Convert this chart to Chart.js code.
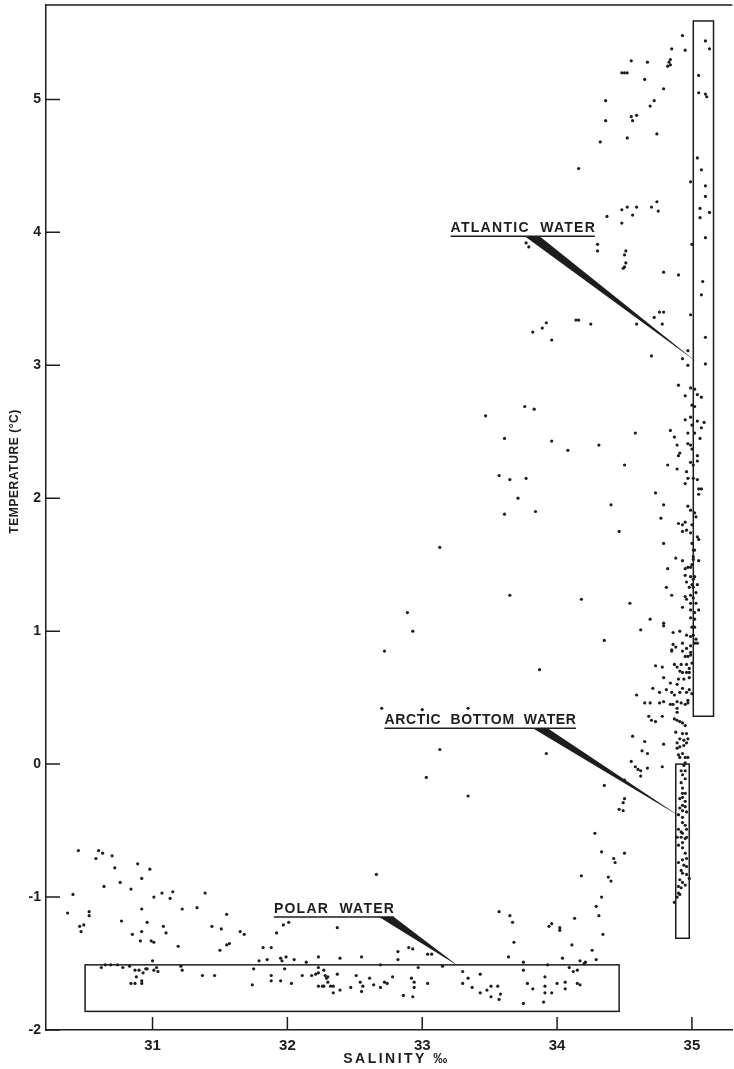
<!DOCTYPE html>
<html>
<head>
<meta charset="utf-8">
<title>Temperature - salinity</title>
<script src="https://cdn.jsdelivr.net/npm/chart.js@4.4.1/dist/chart.umd.min.js"></script>
<style>
  html, body { margin: 0; padding: 0; background: #fff; }
  canvas { display: block; }
</style>
</head>
<body>
<canvas id="tsChart" width="734" height="1069"></canvas>
<script>
// axis ranges and tick values
const salinityTicks = [31, 32, 33, 34, 35];
const temperatureTicks = [-2, -1, 0, 1, 2, 3, 4, 5];
const salinityRange = [30.21, 35.3];
const temperatureRange = [-2, 5.71];

// observations [salinity, temperature], read off the plate
// warm water near the top right
const upperPoints = [
  [34.93, 5.48], [34.95, 5.37], [34.85, 5.38], [35.10, 5.44], [35.13, 5.38], [34.55, 5.29], [34.67, 5.28],
  [34.84, 5.30], [34.83, 5.28], [34.84, 5.26], [34.82, 5.25], [34.48, 5.20], [34.50, 5.20], [34.52, 5.20],
  [35.05, 5.18], [34.65, 5.15], [34.79, 5.08], [35.05, 5.05], [35.10, 5.04], [35.11, 5.02], [34.36, 4.99],
  [34.72, 4.99], [34.69, 4.95], [34.55, 4.87], [34.59, 4.88], [34.56, 4.84], [34.36, 4.84], [34.74, 4.74],
  [34.52, 4.71], [34.32, 4.68], [34.16, 4.48], [35.04, 4.56], [35.07, 4.47], [34.99, 4.38], [35.10, 4.35],
  [35.10, 4.27], [35.06, 4.18], [35.06, 4.11], [35.13, 4.15], [35.10, 3.96], [34.48, 4.17], [34.52, 4.19],
  [34.59, 4.19], [34.56, 4.13], [34.70, 4.19], [34.74, 4.23], [34.75, 4.16], [34.37, 4.12], [34.48, 4.07],
  [34.30, 3.91], [34.30, 3.86], [34.51, 3.86], [34.50, 3.83], [34.51, 3.77], [34.50, 3.74], [34.49, 3.73],
  [35.00, 3.91], [34.79, 3.70], [34.90, 3.68], [35.08, 3.63], [35.07, 3.53], [34.99, 3.38], [34.76, 3.40],
  [34.79, 3.40], [34.72, 3.36], [34.78, 3.31], [34.59, 3.31], [35.10, 3.21], [34.14, 3.34], [34.16, 3.34],
  [34.25, 3.31], [33.92, 3.32], [33.89, 3.28], [33.96, 3.19], [33.77, 3.92], [33.79, 3.89], [33.82, 3.25]
];

// the dense column along 35 permille
const columnPoints = [
  [34.97, 3.11], [34.93, 3.05], [34.97, 3.00], [35.10, 3.01], [34.70, 3.07], [34.90, 2.85], [34.99, 2.83],
  [34.95, 2.77], [35.04, 2.78], [35.07, 2.76], [35.02, 2.82], [35.00, 2.70], [35.02, 2.69], [34.95, 2.59],
  [34.99, 2.61], [35.04, 2.58], [35.09, 2.57], [35.07, 2.53], [35.00, 2.55], [34.84, 2.51], [34.87, 2.46],
  [34.97, 2.49], [35.02, 2.49], [35.06, 2.45], [34.58, 2.49], [33.96, 2.43], [34.08, 2.36], [34.31, 2.40],
  [34.89, 2.40], [34.91, 2.34], [34.90, 2.32], [34.97, 2.41], [34.99, 2.40], [35.00, 2.37], [35.04, 2.28],
  [35.04, 2.32], [34.99, 2.27], [35.01, 2.25], [34.82, 2.25], [34.89, 2.22], [34.96, 2.20], [34.97, 2.15],
  [34.95, 2.11], [35.01, 2.15], [35.04, 2.14], [34.50, 2.25], [35.05, 2.07], [35.07, 2.07], [35.05, 2.03],
  [34.73, 2.04], [34.40, 1.95], [34.79, 1.95], [34.97, 1.94], [34.99, 1.91], [35.02, 1.89], [35.03, 1.86],
  [34.77, 1.85], [34.90, 1.81], [34.93, 1.80], [34.95, 1.82], [34.96, 1.76], [34.93, 1.75], [34.99, 1.74],
  [35.00, 1.80], [34.46, 1.75], [35.04, 1.71], [35.05, 1.69], [34.79, 1.66], [35.00, 1.66], [35.01, 1.61],
  [35.02, 1.61], [34.88, 1.55], [34.93, 1.53], [35.05, 1.53], [35.01, 1.56], [35.01, 1.54], [34.82, 1.47],
  [34.95, 1.47], [34.97, 1.48], [34.99, 1.48], [35.00, 1.50], [34.95, 1.42], [34.99, 1.41], [35.02, 1.41],
  [35.01, 1.39], [34.96, 1.37], [35.00, 1.35], [35.01, 1.33], [35.04, 1.35], [34.98, 1.33], [34.81, 1.33],
  [34.85, 1.27], [34.95, 1.26], [34.96, 1.24], [34.99, 1.27], [35.01, 1.25], [35.03, 1.29], [34.18, 1.24],
  [34.54, 1.21], [34.99, 1.21], [35.03, 1.21], [34.93, 1.18], [34.99, 1.16], [35.05, 1.16], [35.02, 1.14],
  [34.69, 1.09], [34.79, 1.06], [34.79, 1.04], [34.99, 1.10], [35.02, 1.09], [35.00, 1.03], [35.02, 1.03],
  [34.62, 1.01], [34.86, 0.99], [34.91, 1.00], [34.35, 0.93], [34.96, 0.97], [34.99, 0.96], [35.01, 0.97],
  [35.03, 0.94], [35.02, 0.91], [35.04, 0.91], [34.99, 0.89], [34.86, 0.90], [34.88, 0.88], [34.85, 0.85],
  [34.93, 0.91], [34.93, 0.85], [34.96, 0.87], [34.99, 0.84], [34.95, 0.81], [34.97, 0.81], [34.99, 0.82],
  [34.85, 0.86], [34.73, 0.74], [34.78, 0.73], [34.87, 0.75], [34.89, 0.73], [34.92, 0.75], [34.96, 0.75],
  [34.91, 0.70], [34.93, 0.69], [34.96, 0.69], [34.98, 0.72], [35.00, 0.76], [34.98, 0.69], [34.79, 0.65],
  [34.84, 0.61], [34.89, 0.60], [34.90, 0.64], [34.94, 0.64], [34.98, 0.65], [34.59, 0.52], [34.71, 0.57],
  [34.76, 0.54], [34.81, 0.56], [34.85, 0.54], [34.87, 0.52], [34.91, 0.54], [34.93, 0.57], [34.96, 0.54],
  [34.98, 0.56], [35.00, 0.53], [34.65, 0.46], [34.69, 0.46], [34.76, 0.46], [34.79, 0.47], [34.86, 0.45],
  [34.89, 0.47], [34.92, 0.46], [34.95, 0.45], [34.97, 0.46], [34.97, 0.48], [34.89, 0.42], [34.84, 0.45],
  [34.68, 0.36], [34.70, 0.33], [34.73, 0.32], [34.78, 0.36], [34.89, 0.39], [34.87, 0.34], [34.89, 0.33],
  [34.91, 0.32], [34.93, 0.31], [34.95, 0.29], [34.56, 0.21], [34.65, 0.17], [34.79, 0.15], [34.88, 0.24],
  [34.93, 0.23], [34.96, 0.23], [34.91, 0.19], [34.94, 0.18], [34.97, 0.19], [34.89, 0.16], [34.89, 0.12],
  [34.91, 0.13], [34.94, 0.14], [34.96, 0.16], [34.90, 0.07], [34.93, 0.08], [34.95, 0.05], [34.97, 0.05],
  [34.91, 0.05], [34.95, 0.01], [34.94, -0.01], [34.63, 0.10], [34.67, 0.08], [34.55, 0.02], [34.58, -0.02],
  [34.60, -0.04], [34.62, -0.05], [34.62, -0.09], [34.67, -0.03], [34.78, -0.02], [34.50, -0.12], [34.35, -0.16]
];

// arctic bottom water and the cold limb leading down to the polar layer
const arcticPoints = [
  [34.92, -0.05], [34.95, -0.05], [34.93, -0.08], [34.95, -0.11], [34.92, -0.14], [34.93, -0.18], [34.93, -0.22],
  [34.95, -0.22], [34.93, -0.25], [34.91, -0.26], [34.95, -0.28], [34.93, -0.31], [34.95, -0.32], [34.91, -0.33],
  [34.93, -0.35], [34.96, -0.36], [34.90, -0.38], [34.93, -0.40], [34.93, -0.44], [34.95, -0.46], [34.90, -0.49],
  [34.92, -0.51], [34.93, -0.52], [34.96, -0.49], [34.89, -0.55], [34.92, -0.55], [34.95, -0.56], [34.96, -0.55],
  [34.93, -0.59], [34.90, -0.61], [34.93, -0.63], [34.95, -0.67], [34.96, -0.71], [34.90, -0.74], [34.93, -0.72],
  [34.94, -0.76], [34.96, -0.77], [34.92, -0.80], [34.93, -0.82], [34.96, -0.83], [34.98, -0.86], [34.91, -0.87],
  [34.93, -0.89], [34.95, -0.91], [34.90, -0.92], [34.92, -0.93], [34.90, -0.97], [34.91, -0.98], [34.87, -1.04],
  [34.89, -1.00], [34.50, -0.26], [34.49, -0.29], [34.46, -0.34], [34.49, -0.35], [34.28, -0.52], [34.33, -0.66],
  [34.50, -0.67], [34.42, -0.71], [34.43, -0.74], [34.38, -0.85], [34.40, -0.88], [34.33, -1.00], [34.29, -1.07],
  [34.31, -1.14], [34.34, -1.28], [34.26, -1.40], [34.29, -1.47], [34.18, -0.84], [34.11, -1.36], [34.13, -1.16]
];

// scattered stations in the middle of the field
const midPoints = [
  [32.72, 0.85], [33.87, 0.71], [32.70, 0.42], [33.00, 0.41], [33.34, 0.42], [33.13, 0.11], [33.92, 0.08],
  [33.03, -0.10], [33.34, -0.24], [32.66, -0.83], [33.76, 2.69], [33.83, 2.67], [33.47, 2.62], [33.61, 2.45],
  [33.57, 2.17], [33.65, 2.14], [33.77, 2.15], [33.71, 2.00], [33.61, 1.88], [33.84, 1.90], [33.13, 1.63],
  [33.65, 1.27], [32.89, 1.14], [32.93, 1.00]
];

// low salinity surface water on the left and the polar layer
const polarPoints = [
  [30.45, -0.65], [30.41, -0.98], [30.37, -1.12], [30.46, -1.22], [30.49, -1.21], [30.47, -1.26], [30.53, -1.11],
  [30.53, -1.14], [30.58, -0.71], [30.60, -0.65], [30.63, -0.67], [30.70, -0.69], [30.64, -0.92], [30.72, -0.78],
  [30.76, -0.89], [30.77, -1.18], [30.84, -0.94], [30.89, -0.75], [30.92, -0.86], [30.98, -0.79], [30.92, -1.09],
  [30.85, -1.28], [30.92, -1.26], [30.91, -1.33], [30.96, -1.19], [30.99, -1.33], [31.01, -1.34], [31.01, -1.00],
  [31.07, -0.97], [31.13, -1.01], [31.15, -0.96], [31.08, -1.22], [31.10, -1.27], [31.22, -1.09], [31.19, -1.37],
  [31.33, -1.08], [31.39, -0.97], [31.44, -1.22], [31.51, -1.24], [31.55, -1.13], [31.50, -1.40], [31.55, -1.36],
  [31.57, -1.35], [31.65, -1.26], [31.68, -1.28], [31.82, -1.38], [31.88, -1.38], [31.79, -1.48], [31.85, -1.47],
  [31.92, -1.27], [31.97, -1.21], [32.01, -1.19], [31.95, -1.46], [31.99, -1.45], [31.96, -1.48], [32.05, -1.47],
  [30.62, -1.53], [30.65, -1.51], [30.69, -1.51], [30.74, -1.51], [30.78, -1.53], [30.83, -1.52], [30.87, -1.55],
  [30.90, -1.55], [30.95, -1.54], [30.96, -1.54], [31.00, -1.48], [31.01, -1.55], [31.03, -1.53], [31.04, -1.56],
  [30.93, -1.57], [30.88, -1.60], [30.84, -1.65], [30.87, -1.65], [30.92, -1.63], [30.92, -1.65], [31.21, -1.52],
  [31.22, -1.55], [31.37, -1.59], [31.46, -1.59], [31.75, -1.54], [31.74, -1.66], [31.88, -1.59], [31.88, -1.63],
  [31.98, -1.54], [31.95, -1.63], [32.03, -1.65], [32.37, -1.23], [32.23, -1.45], [32.39, -1.46], [32.55, -1.45],
  [32.14, -1.49], [32.11, -1.59], [32.18, -1.59], [32.21, -1.58], [32.23, -1.57], [32.28, -1.59], [32.30, -1.60],
  [32.27, -1.55], [32.23, -1.53], [32.29, -1.61], [32.30, -1.64], [32.23, -1.67], [32.26, -1.67], [32.27, -1.67],
  [32.32, -1.67], [32.34, -1.67], [32.34, -1.72], [32.39, -1.70], [32.47, -1.68], [32.51, -1.59], [32.54, -1.64],
  [32.55, -1.71], [32.56, -1.67], [32.61, -1.61], [32.64, -1.66], [32.37, -1.58], [32.69, -1.68], [32.72, -1.64],
  [32.74, -1.65], [32.78, -1.60], [32.69, -1.51], [32.82, -1.41], [32.82, -1.47], [32.90, -1.38], [32.93, -1.39],
  [33.04, -1.43], [33.07, -1.43], [32.97, -1.53], [32.92, -1.61], [32.94, -1.64], [32.94, -1.68], [33.04, -1.65],
  [32.86, -1.74], [32.93, -1.75], [33.15, -1.52], [33.30, -1.56], [33.34, -1.61], [33.30, -1.65], [33.37, -1.68],
  [33.43, -1.58], [33.43, -1.72], [33.48, -1.70], [33.51, -1.67], [33.51, -1.75], [33.56, -1.67], [33.57, -1.77],
  [33.58, -1.73], [33.57, -1.11], [33.65, -1.14], [33.67, -1.19], [33.68, -1.34], [33.64, -1.45], [33.75, -1.49],
  [33.75, -1.55], [33.78, -1.65], [33.82, -1.69], [33.75, -1.80], [33.94, -1.22], [33.96, -1.20], [34.02, -1.23],
  [34.02, -1.25], [33.93, -1.51], [33.91, -1.60], [33.91, -1.67], [33.91, -1.72], [33.96, -1.72], [33.90, -1.79],
  [34.00, -1.65], [34.06, -1.64], [34.06, -1.69], [34.04, -1.46], [34.09, -1.53], [34.12, -1.56], [34.15, -1.55],
  [34.17, -1.48], [34.20, -1.50], [34.21, -1.49], [34.15, -1.65], [34.17, -1.66]
];

// water mass boxes: [salinity min, salinity max, temp min, temp max]
const atlanticBox = [35.01, 35.16, 0.36, 5.59];
const arcticBox = [34.88, 34.98, -1.31, 0.0];
const polarBox = [30.5, 34.46, -1.86, -1.51];

// labels with underline span, underline temperature, wedge base and wedge tip
const waterLabels = [
  { text: "ATLANTIC  WATER", from: 33.21, to: 34.28, temp: 3.97, base: [33.76, 33.87], tip: [35.04, 3.02] },
  { text: "ARCTIC  BOTTOM  WATER", from: 32.72, to: 34.14, temp: 0.27, base: [33.82, 33.93], tip: [34.92, -0.40] },
  { text: "POLAR  WATER", from: 31.90, to: 32.79, temp: -1.15, base: [32.68, 32.79], tip: [33.27, -1.52] }
];

const ink = "#1d1d1d";
const fontFamily = '"Liberation Sans", Arial, sans-serif';

function fitText(ctx, text, x, y, width) {
  ctx.letterSpacing = "0px";
  const w = ctx.measureText(text).width;
  const sp = Math.max(0, (width - w) / (text.length - 1));
  ctx.letterSpacing = sp + "px";
  ctx.fillText(text, x, y);
  ctx.letterSpacing = "0px";
}

// frame, inward ticks, boxes, labels and axis titles
const decorations = {
  id: "decorations",
  afterDraw(chart) {
    const { ctx, chartArea: a, scales } = chart;
    const px = (v) => scales.x.getPixelForValue(v);
    const py = (v) => scales.y.getPixelForValue(v);
    ctx.save();
    ctx.strokeStyle = ink;
    ctx.fillStyle = ink;
    ctx.lineWidth = 1.5;

    ctx.beginPath();
    ctx.moveTo(a.left, a.top);
    ctx.lineTo(a.right, a.top);
    temperatureTicks.forEach((t) => {
      ctx.moveTo(a.left, py(t));
      ctx.lineTo(a.left + 14, py(t));
    });
    salinityTicks.forEach((s) => {
      ctx.moveTo(px(s), a.bottom);
      ctx.lineTo(px(s), a.bottom - 13);
    });
    ctx.stroke();

    [atlanticBox, arcticBox, polarBox].forEach((b) => {
      ctx.strokeRect(px(b[0]), py(b[3]), px(b[1]) - px(b[0]), py(b[2]) - py(b[3]));
    });

    ctx.font = "bold 14px " + fontFamily;
    ctx.textAlign = "left";
    ctx.textBaseline = "alphabetic";
    waterLabels.forEach((l) => {
      const x0 = px(l.from), x1 = px(l.to), yl = py(l.temp);
      fitText(ctx, l.text, x0, yl - 4, x1 - x0);
      ctx.beginPath();
      ctx.moveTo(x0, yl);
      ctx.lineTo(x1, yl);
      ctx.stroke();
      ctx.beginPath();
      ctx.moveTo(px(l.base[0]), yl);
      ctx.lineTo(px(l.base[1]), yl);
      ctx.lineTo(px(l.tip[0]), py(l.tip[1]));
      ctx.closePath();
      ctx.fill();
    });

    // axis titles
    ctx.font = "bold 14px " + fontFamily;
    ctx.textBaseline = "middle";
    fitText(ctx, "SALINITY ‰", px(32.8) - 52, 1059, 104);
    ctx.translate(15, py(2.2));
    ctx.rotate(-Math.PI / 2);
    ctx.font = "bold 12px " + fontFamily;
    fitText(ctx, "TEMPERATURE (°C)", -62, 0, 124);
    ctx.restore();
  }
};

const allPoints = upperPoints.concat(columnPoints, arcticPoints, midPoints, polarPoints);

const tsCtx = document.getElementById("tsChart").getContext("2d");
const tsChart = new Chart(tsCtx, {
  type: "scatter",
  data: {
    datasets: [
      {
        label: "Stations",
        data: allPoints.map((p) => ({ x: p[0], y: p[1] })),
        pointRadius: 1.6,
        pointHoverRadius: 1.6,
        pointBackgroundColor: ink,
        pointBorderWidth: 0
      }
    ]
  },
  options: {
    responsive: false,
    animation: false,
    layout: { padding: { top: 5, right: 0, bottom: 0, left: 0 } },
    plugins: {
      legend: { display: false },
      tooltip: { enabled: false }
    },
    scales: {
      x: {
        type: "linear",
        min: salinityRange[0],
        max: salinityRange[1],
        grid: { display: false, drawTicks: false },
        border: { display: true, color: ink, width: 1.5 },
        ticks: { color: ink, padding: 7, maxRotation: 0, font: { family: fontFamily, size: 15, weight: "bold" } },
        afterBuildTicks: (s) => { s.ticks = salinityTicks.map((v) => ({ value: v })); },
        afterFit: (s) => { s.height = 39; s.paddingLeft = 0; s.paddingRight = 0; }
      },
      y: {
        type: "linear",
        min: temperatureRange[0],
        max: temperatureRange[1],
        grid: { display: false, drawTicks: false },
        border: { display: true, color: ink, width: 1.5 },
        ticks: { color: ink, padding: 5, font: { family: fontFamily, size: 14, weight: "bold" } },
        afterBuildTicks: (s) => { s.ticks = temperatureTicks.map((v) => ({ value: v })); },
        afterFit: (s) => { s.width = 46; s.paddingTop = 0; s.paddingBottom = 0; }
      }
    }
  },
  plugins: [decorations]
});
</script>
</body>
</html>
